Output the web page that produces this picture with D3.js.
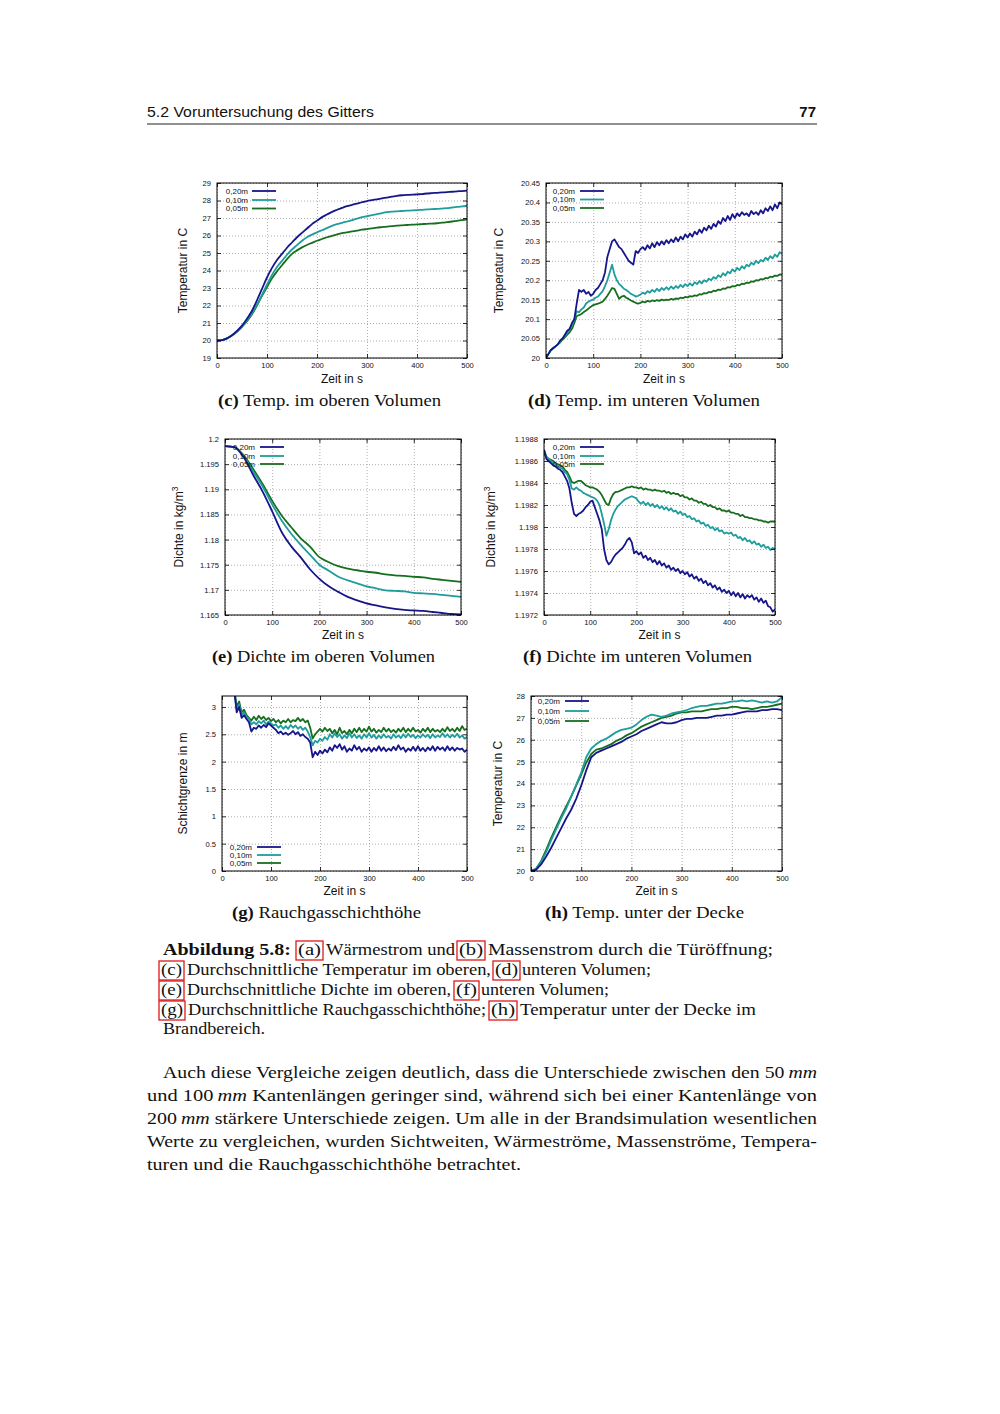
<!DOCTYPE html>
<html><head><meta charset="utf-8">
<script src="https://cdn.jsdelivr.net/npm/d3@7/dist/d3.min.js"></script>
<style>html,body{margin:0;padding:0;background:#fff}svg{display:block}</style>
</head><body>
<script>
// ---------------- DATA ----------------
const seriesNames = ["0,20m", "0,10m", "0,05m"];
const xTicks = [0, 100, 200, 300, 400, 500];

const t10 = [0,10,20,30,40,50,60,70,80,90,100,110,120,130,140,150,160,170,180,190,200,210,220,230,240,250,260,270,280,290,300,310,320,330,340,350,360,370,380,390,400,410,420,430,440,450,460,470,480,490,500];
const t20 = [0,20,40,60,80,100,120,140,160,180,200,220,240,260,280,300,320,340,360,380,400,420,440,460,480,500];
const t5 = [0,5,10,15,20,25,30,35,40,45,50,55,60,65,70,75,80,85,90,95,100,105,110,115,120,125,130,135,140,145,150,155,160,165,170,175,180,185,190,195,200,205,210,215,220,225,230,235,240,245,250,255,260,265,270,275,280,285,290,295,300,305,310,315,320,325,330,335,340,345,350,355,360,365,370,375,380,385,390,395,400,405,410,415,420,425,430,435,440,445,450,455,460,465,470,475,480,485,490,495,500];

// (c) Temperatur oberes Volumen  (t10)
const cTicks = [19,20,21,22,23,24,25,26,27,28,29];
const c020 = [20,20.02,20.12,20.3,20.55,20.85,21.25,21.7,22.3,22.95,23.6,24.15,24.6,24.95,25.3,25.6,25.9,26.15,26.4,26.65,26.85,27.05,27.2,27.35,27.47,27.58,27.68,27.75,27.82,27.9,27.97,28.02,28.07,28.12,28.17,28.22,28.27,28.3,28.32,28.33,28.35,28.37,28.4,28.42,28.44,28.46,28.48,28.5,28.52,28.54,28.56];
const c010 = [20,20.02,20.12,20.3,20.52,20.8,21.15,21.55,22.05,22.6,23.2,23.75,24.2,24.55,24.9,25.2,25.45,25.7,25.9,26.05,26.18,26.3,26.42,26.55,26.65,26.72,26.8,26.88,26.97,27.05,27.1,27.17,27.22,27.28,27.33,27.36,27.38,27.4,27.42,27.43,27.45,27.47,27.49,27.51,27.52,27.54,27.56,27.6,27.63,27.66,27.7];
const c005 = [20,20.02,20.12,20.28,20.5,20.78,21.1,21.5,22.0,22.55,23.05,23.55,23.95,24.3,24.65,24.95,25.15,25.32,25.46,25.58,25.7,25.8,25.9,25.98,26.06,26.13,26.18,26.23,26.28,26.33,26.37,26.41,26.45,26.48,26.51,26.53,26.56,26.58,26.6,26.62,26.63,26.65,26.67,26.68,26.7,26.73,26.76,26.8,26.84,26.88,26.92];

// (d) Temperatur unteres Volumen  (t5)
const dTicks = [20,20.05,20.1,20.15,20.2,20.25,20.3,20.35,20.4,20.45];
const d020 = [20,20.01,20.02,20.025,20.03,20.035,20.045,20.05,20.06,20.07,20.075,20.09,20.1,20.14,20.175,20.17,20.175,20.165,20.17,20.16,20.165,20.175,20.18,20.19,20.2,20.22,20.26,20.28,20.3,20.305,20.295,20.285,20.28,20.27,20.26,20.25,20.245,20.24,20.275,20.27,20.28,20.285,20.278,20.29,20.282,20.295,20.285,20.298,20.29,20.3,20.292,20.303,20.295,20.305,20.298,20.31,20.3,20.312,20.305,20.318,20.31,20.32,20.312,20.325,20.318,20.33,20.322,20.335,20.328,20.34,20.332,20.345,20.338,20.352,20.345,20.36,20.352,20.365,20.355,20.37,20.36,20.372,20.365,20.375,20.368,20.372,20.365,20.378,20.37,20.375,20.368,20.38,20.372,20.385,20.378,20.39,20.38,20.395,20.385,20.4,20.395];
const d010 = [20,20.01,20.02,20.025,20.03,20.035,20.042,20.05,20.057,20.065,20.072,20.085,20.1,20.12,20.118,20.125,20.13,20.14,20.145,20.148,20.15,20.155,20.158,20.165,20.172,20.185,20.2,20.22,20.24,20.215,20.2,20.19,20.185,20.178,20.175,20.17,20.165,20.162,20.158,20.16,20.163,20.168,20.165,20.172,20.168,20.175,20.17,20.178,20.172,20.18,20.175,20.182,20.176,20.184,20.178,20.185,20.18,20.188,20.182,20.19,20.185,20.192,20.186,20.195,20.19,20.198,20.192,20.2,20.196,20.204,20.2,20.208,20.204,20.213,20.208,20.218,20.212,20.222,20.218,20.228,20.222,20.232,20.226,20.236,20.23,20.24,20.236,20.245,20.24,20.25,20.244,20.252,20.248,20.258,20.252,20.262,20.256,20.266,20.26,20.272,20.268];
const d005 = [20,20.01,20.02,20.025,20.03,20.035,20.04,20.047,20.053,20.06,20.066,20.075,20.09,20.108,20.11,20.113,20.118,20.122,20.127,20.132,20.136,20.138,20.14,20.142,20.145,20.152,20.16,20.17,20.18,20.178,20.165,20.152,20.158,20.16,20.155,20.152,20.148,20.145,20.142,20.14,20.142,20.145,20.143,20.147,20.145,20.148,20.146,20.149,20.147,20.15,20.148,20.15,20.149,20.152,20.15,20.153,20.152,20.155,20.154,20.157,20.156,20.159,20.158,20.161,20.16,20.164,20.163,20.167,20.166,20.17,20.169,20.173,20.172,20.176,20.175,20.179,20.178,20.182,20.181,20.185,20.184,20.188,20.187,20.191,20.19,20.194,20.193,20.197,20.196,20.2,20.199,20.203,20.202,20.206,20.205,20.209,20.208,20.212,20.211,20.215,20.214];

// (e) Dichte oberes Volumen  (t20)
const eTicks = [1.165,1.17,1.175,1.18,1.185,1.19,1.195,1.2];
const e020 = [1.1986,1.1984,1.1963,1.1928,1.1895,1.1856,1.1815,1.1787,1.1765,1.1741,1.1722,1.1707,1.1696,1.1686,1.1679,1.1673,1.1669,1.1665,1.1662,1.1660,1.1659,1.1658,1.1656,1.1654,1.1652,1.1651];
const e010 = [1.1986,1.1984,1.1965,1.1935,1.1905,1.1870,1.1838,1.1812,1.1790,1.1770,1.1750,1.1738,1.1726,1.1719,1.1713,1.1707,1.1703,1.1699,1.1698,1.1697,1.1694,1.1693,1.1692,1.1690,1.1688,1.1686];
const e005 = [1.1986,1.1984,1.1967,1.1940,1.1910,1.1877,1.1848,1.1825,1.1803,1.1786,1.1765,1.1755,1.1747,1.1742,1.1739,1.1736,1.1734,1.1731,1.1729,1.1728,1.1726,1.1725,1.1722,1.1720,1.1718,1.1716];

// (f) Dichte unteres Volumen  (t5)
const fTicks = [1.1972,1.1974,1.1976,1.1978,1.198,1.1982,1.1984,1.1986,1.1988];
const f020 = [1.19870,1.19862,1.19860,1.19858,1.19856,1.19855,1.19853,1.19852,1.19850,1.19846,1.19842,1.19835,1.19822,1.19812,1.19810,1.19812,1.19813,1.19815,1.19818,1.19820,1.19823,1.19824,1.19818,1.19812,1.19806,1.19798,1.19780,1.19770,1.19766,1.19768,1.19772,1.19775,1.19777,1.19779,1.19781,1.19784,1.19788,1.19790,1.19786,1.19776,1.19778,1.19775,1.19777,1.19772,1.19774,1.19770,1.19772,1.19768,1.19770,1.19766,1.19769,1.19765,1.19767,1.19763,1.19765,1.19761,1.19763,1.19760,1.19762,1.19758,1.19760,1.19757,1.19759,1.19755,1.19757,1.19753,1.19755,1.19751,1.19753,1.19749,1.19751,1.19747,1.19749,1.19745,1.19747,1.19743,1.19745,1.19741,1.19743,1.19740,1.19742,1.19738,1.19741,1.19737,1.19740,1.19736,1.19739,1.19735,1.19738,1.19736,1.19738,1.19734,1.19736,1.19732,1.19735,1.19731,1.19733,1.19728,1.19727,1.19723,1.19725];
const f010 = [1.19870,1.19864,1.19862,1.19860,1.19858,1.19857,1.19855,1.19854,1.19853,1.19850,1.19848,1.19843,1.19835,1.19834,1.19836,1.19834,1.19833,1.19831,1.19830,1.19829,1.19828,1.19827,1.19826,1.19824,1.19820,1.19812,1.19803,1.19792,1.19798,1.19806,1.19812,1.19816,1.19819,1.19821,1.19823,1.19825,1.19826,1.19827,1.19828,1.19827,1.19826,1.19823,1.19821,1.19823,1.19820,1.19822,1.19819,1.19821,1.19818,1.19820,1.19817,1.19819,1.19816,1.19818,1.19815,1.19817,1.19814,1.19815,1.19812,1.19814,1.19811,1.19812,1.19809,1.19810,1.19807,1.19808,1.19805,1.19806,1.19803,1.19804,1.19801,1.19802,1.19799,1.19800,1.19797,1.19799,1.19796,1.19797,1.19794,1.19795,1.19794,1.19795,1.19792,1.19793,1.19790,1.19791,1.19788,1.19790,1.19787,1.19788,1.19785,1.19787,1.19784,1.19785,1.19782,1.19784,1.19781,1.19782,1.19779,1.19781,1.19780];
const f005 = [1.19870,1.19864,1.19862,1.19861,1.19860,1.19858,1.19857,1.19856,1.19855,1.19852,1.19850,1.19846,1.19841,1.19840,1.19841,1.19842,1.19842,1.19840,1.19838,1.19837,1.19836,1.19836,1.19835,1.19834,1.19832,1.19829,1.19825,1.19821,1.19820,1.19826,1.19830,1.19832,1.19832,1.19833,1.19834,1.19835,1.19836,1.19836,1.19837,1.19836,1.19836,1.19835,1.19836,1.19834,1.19835,1.19834,1.19834,1.19833,1.19834,1.19833,1.19833,1.19832,1.19833,1.19831,1.19832,1.19830,1.19831,1.19830,1.19830,1.19828,1.19829,1.19827,1.19827,1.19825,1.19826,1.19824,1.19824,1.19822,1.19823,1.19821,1.19821,1.19819,1.19820,1.19818,1.19818,1.19816,1.19817,1.19815,1.19815,1.19814,1.19815,1.19813,1.19813,1.19812,1.19812,1.19810,1.19811,1.19809,1.19809,1.19808,1.19808,1.19807,1.19807,1.19806,1.19806,1.19805,1.19805,1.19804,1.19805,1.19805,1.19805];

// (g) Schichtgrenze  (t5)
const gTicks = [0,0.5,1,1.5,2,2.5,3];
const g020 = [3.4,3.4,3.4,3.4,3.4,3.3,2.9,3.0,2.8,2.85,2.78,2.72,2.55,2.62,2.6,2.66,2.62,2.67,2.63,2.7,2.66,2.62,2.58,2.52,2.55,2.5,2.53,2.49,2.52,2.56,2.5,2.54,2.47,2.5,2.45,2.42,2.35,2.08,2.18,2.12,2.2,2.15,2.22,2.17,2.26,2.2,2.3,2.25,2.32,2.22,2.28,2.18,2.24,2.2,2.3,2.22,2.27,2.18,2.24,2.2,2.26,2.18,2.25,2.2,2.28,2.2,2.26,2.19,2.24,2.2,2.27,2.21,2.3,2.22,2.26,2.18,2.24,2.2,2.27,2.2,2.28,2.2,2.25,2.19,2.26,2.21,2.28,2.2,2.27,2.22,2.26,2.2,2.28,2.21,2.26,2.2,2.25,2.22,2.24,2.18,2.22];
const g010 = [3.4,3.4,3.4,3.4,3.4,3.3,2.95,3.05,2.85,2.9,2.82,2.78,2.68,2.72,2.68,2.74,2.7,2.75,2.68,2.73,2.7,2.66,2.68,2.62,2.66,2.6,2.65,2.6,2.67,2.62,2.66,2.6,2.64,2.58,2.62,2.55,2.45,2.3,2.38,2.35,2.42,2.38,2.45,2.4,2.5,2.44,2.52,2.45,2.5,2.42,2.48,2.43,2.52,2.44,2.5,2.43,2.48,2.42,2.5,2.44,2.52,2.44,2.49,2.42,2.48,2.43,2.5,2.44,2.47,2.42,2.5,2.44,2.48,2.43,2.5,2.44,2.51,2.45,2.49,2.43,2.48,2.44,2.5,2.45,2.49,2.43,2.5,2.44,2.48,2.45,2.52,2.45,2.5,2.44,2.49,2.45,2.51,2.44,2.48,2.42,2.45];
const g005 = [3.4,3.4,3.4,3.4,3.4,3.35,3.0,3.1,2.9,2.95,2.85,2.8,2.75,2.82,2.76,2.84,2.78,2.82,2.76,2.8,2.74,2.78,2.72,2.76,2.7,2.75,2.72,2.78,2.72,2.76,2.74,2.8,2.74,2.78,2.72,2.75,2.62,2.42,2.5,2.55,2.6,2.55,2.62,2.56,2.6,2.52,2.58,2.5,2.62,2.52,2.56,2.5,2.58,2.52,2.6,2.54,2.62,2.54,2.6,2.55,2.64,2.55,2.6,2.53,2.58,2.54,2.62,2.55,2.6,2.54,2.58,2.53,2.6,2.55,2.62,2.54,2.6,2.55,2.62,2.55,2.58,2.53,2.6,2.55,2.62,2.54,2.6,2.55,2.58,2.54,2.6,2.55,2.63,2.56,2.6,2.55,2.62,2.56,2.65,2.58,2.6];

// (h) Temperatur unter der Decke  (t10)
const hTicks = [20,21,22,23,24,25,26,27,28];
const h020 = [20,20.05,20.3,20.65,21.05,21.5,21.95,22.4,22.8,23.3,23.9,24.6,25.2,25.4,25.5,25.6,25.7,25.8,25.9,26.05,26.15,26.25,26.4,26.5,26.6,26.7,26.8,26.75,26.75,26.8,26.9,26.95,26.95,27.0,27.0,27.0,27.05,27.1,27.1,27.15,27.15,27.2,27.25,27.3,27.3,27.3,27.35,27.35,27.4,27.4,27.35];
const h010 = [20,20.1,20.4,20.85,21.4,21.9,22.4,22.85,23.4,23.95,24.5,25.2,25.6,25.8,25.95,26.05,26.2,26.35,26.45,26.5,26.55,26.7,26.9,27.05,27.15,27.1,27.05,27.1,27.2,27.25,27.3,27.35,27.45,27.5,27.55,27.55,27.6,27.65,27.65,27.7,27.75,27.75,27.8,27.75,27.8,27.75,27.7,27.75,27.7,27.75,27.95];
const h005 = [20,20.1,20.45,20.95,21.5,22.0,22.5,22.95,23.4,23.9,24.4,24.95,25.35,25.55,25.6,25.7,25.8,25.95,26.05,26.2,26.3,26.45,26.6,26.7,26.8,26.9,27.0,27.05,27.1,27.2,27.25,27.25,27.3,27.3,27.3,27.35,27.4,27.4,27.45,27.45,27.5,27.5,27.45,27.45,27.4,27.45,27.5,27.5,27.55,27.6,27.65];

// ---------------- STYLE / LAYOUT ----------------
const colors = ["#16168a", "#1f9c9c", "#176e1f"];
const W = 1000, H = 1414;
const svg = d3.select("body").append("svg").attr("width", W).attr("height", H);
svg.append("rect").attr("width", W).attr("height", H).attr("fill", "#fff");
const SANS = "'Liberation Sans', Arial, sans-serif";
const SERIF = "'Liberation Serif', 'Times New Roman', serif";

const panels = [
  {t:t10, s:[c020,c010,c005], x0:217, x1:467, y0:183, y1:358, ydom:[19,29], yt:cTicks, fmt:d3.format("d"),
   ylab:"Temperatur in  C", ylx:187, curve:d3.curveMonotoneX, leg:{lx:252, tx:248, ys:[191,200,208.5]},
   cap:["(c)"," Temp. im oberen Volumen"], capX:218, capW:223, capY:406, xlabY:383},
  {t:t5, s:[d020,d010,d005], x0:546, x1:782, y0:183, y1:358, ydom:[20,20.45], yt:dTicks, fmt:v=>String(+v.toFixed(2)),
   ylab:"Temperatur in  C", ylx:503, curve:d3.curveLinear, leg:{lx:580, tx:575, ys:[191,199.5,208]},
   cap:["(d)"," Temp. im unteren Volumen"], capX:528, capW:232, capY:406, xlabY:383},
  {t:t20, s:[e020,e010,e005], x0:225, x1:461, y0:439, y1:615, ydom:[1.165,1.2], yt:eTicks, fmt:v=>String(+v.toFixed(3)),
   ylab:"Dichte in kg/m", sup:"3", ylx:183, curve:d3.curveMonotoneX, leg:{lx:260, tx:255, ys:[447,456,464]},
   cap:["(e)"," Dichte im oberen Volumen"], capX:212, capW:223, capY:662, xlabY:639},
  {t:t5, s:[f020,f010,f005], x0:544, x1:775, y0:439, y1:615, ydom:[1.1972,1.1988], yt:fTicks, fmt:v=>String(+v.toFixed(4)),
   ylab:"Dichte in kg/m", sup:"3", ylx:495, curve:d3.curveLinear, leg:{lx:580, tx:575, ys:[447,456,464]},
   cap:["(f)"," Dichte im unteren Volumen"], capX:523, capW:229, capY:662, xlabY:639},
  {t:t5, s:[g020,g010,g005], x0:222, x1:467, y0:696, y1:871, ydom:[0,3.2], yt:gTicks, fmt:v=>String(v),
   ylab:"Schichtgrenze in m", ylx:187, curve:d3.curveLinear, leg:{lx:257, tx:252, ys:[847,855,863]},
   cap:["(g)"," Rauchgasschichthöhe"], capX:232, capW:189, capY:918, xlabY:895},
  {t:t10, s:[h020,h010,h005], x0:531, x1:782, y0:696, y1:871, ydom:[20,28], yt:hTicks, fmt:d3.format("d"),
   ylab:"Temperatur in  C", ylx:502, curve:d3.curveLinear, leg:{lx:565, tx:560, ys:[701,711,721]},
   cap:["(h)"," Temp. unter der Decke"], capX:545, capW:199, capY:918, xlabY:895}
];

panels.forEach((p, pi) => {
  const x = d3.scaleLinear().domain([0, 500]).range([p.x0, p.x1]);
  const y = d3.scaleLinear().domain(p.ydom).range([p.y1, p.y0]);
  const g = svg.append("g");
  const pw = p.x1 - p.x0, ph = p.y1 - p.y0;

  // grid
  g.append("g").attr("transform", `translate(0,${p.y1})`)
    .call(d3.axisBottom(x).tickValues(xTicks).tickSize(-ph).tickFormat(""))
    .call(s => { s.select(".domain").remove(); s.selectAll("line").attr("stroke", "#9a9a9a").attr("stroke-width", 0.8).attr("stroke-dasharray", "1,2"); });
  g.append("g").attr("transform", `translate(${p.x0},0)`)
    .call(d3.axisLeft(y).tickValues(p.yt).tickSize(-pw).tickFormat(""))
    .call(s => { s.select(".domain").remove(); s.selectAll("line").attr("stroke", "#9a9a9a").attr("stroke-width", 0.8).attr("stroke-dasharray", "1,2"); });

  // clip
  const cid = "clip" + pi;
  svg.append("clipPath").attr("id", cid).append("rect").attr("x", p.x0).attr("y", p.y0).attr("width", pw).attr("height", ph);

  const line = d3.line().x((d, i) => x(p.t[i])).y(d => y(d)).curve(p.curve);
  const lg = g.append("g").attr("clip-path", `url(#${cid})`);
  [2, 1, 0].forEach(k => {
    lg.append("path").attr("d", line(p.s[k])).attr("fill", "none")
      .attr("stroke", colors[k]).attr("stroke-width", 1.8).attr("stroke-linejoin", "round");
  });

  // axes with inward ticks
  const styleAxis = s => {
    s.select(".domain").remove();
    s.selectAll("line").attr("stroke", "#000").attr("stroke-width", 0.8);
    s.selectAll("text").attr("font-family", SANS).attr("font-size", 7.6).attr("fill", "#111");
  };
  g.append("g").attr("transform", `translate(0,${p.y1})`)
    .call(d3.axisBottom(x).tickValues(xTicks).tickSizeInner(-4).tickSizeOuter(0).tickPadding(5).tickFormat(d3.format("d")))
    .call(styleAxis);
  g.append("g").attr("transform", `translate(0,${p.y0})`)
    .call(d3.axisTop(x).tickValues(xTicks).tickSizeInner(-4).tickSizeOuter(0).tickFormat(""))
    .call(styleAxis);
  g.append("g").attr("transform", `translate(${p.x0},0)`)
    .call(d3.axisLeft(y).tickValues(p.yt).tickSizeInner(-4).tickSizeOuter(0).tickPadding(6).tickFormat(p.fmt))
    .call(styleAxis);
  g.append("g").attr("transform", `translate(${p.x1},0)`)
    .call(d3.axisRight(y).tickValues(p.yt).tickSizeInner(-4).tickSizeOuter(0).tickFormat(""))
    .call(styleAxis);

  // frame
  g.append("rect").attr("x", p.x0).attr("y", p.y0).attr("width", pw).attr("height", ph)
    .attr("fill", "none").attr("stroke", "#000").attr("stroke-width", 1);

  // legend
  seriesNames.forEach((nm, k) => {
    g.append("text").attr("x", p.leg.tx).attr("y", p.leg.ys[k] + 2.9).attr("text-anchor", "end")
      .attr("font-family", SANS).attr("font-size", 8).attr("fill", "#111").text(nm);
    g.append("line").attr("x1", p.leg.lx).attr("x2", p.leg.lx + 24).attr("y1", p.leg.ys[k]).attr("y2", p.leg.ys[k])
      .attr("stroke", colors[k]).attr("stroke-width", 1.8);
  });

  // axis labels
  g.append("text").attr("x", (p.x0 + p.x1) / 2).attr("y", p.xlabY).attr("text-anchor", "middle")
    .attr("font-family", SANS).attr("font-size", 12).attr("fill", "#111").text("Zeit in s");
  const yl = g.append("text").attr("transform", `translate(${p.ylx},${(p.y0 + p.y1) / 2}) rotate(-90)`)
    .attr("text-anchor", "middle").attr("font-family", SANS).attr("font-size", 12).attr("fill", "#111").text(p.ylab);
  if (p.sup) yl.append("tspan").attr("dy", -5).attr("font-size", 8.5).text(p.sup);

  // caption
  const ct = g.append("text").attr("x", p.capX).attr("y", p.capY).attr("font-family", SERIF).attr("font-size", 16)
    .attr("fill", "#111").attr("textLength", p.capW).attr("lengthAdjust", "spacingAndGlyphs");
  ct.append("tspan").attr("font-weight", "bold").text(p.cap[0]);
  ct.append("tspan").text(p.cap[1]);
});

// ---------------- PAGE TEXT ----------------
svg.append("text").attr("x", 147).attr("y", 117).attr("font-family", SANS).attr("font-size", 15)
  .attr("fill", "#111").attr("textLength", 227).attr("lengthAdjust", "spacingAndGlyphs").text("5.2 Voruntersuchung des Gitters");
svg.append("text").attr("x", 816).attr("y", 117).attr("text-anchor", "end").attr("font-family", SANS).attr("font-size", 15)
  .attr("font-weight", "bold").attr("fill", "#111").text("77");
svg.append("line").attr("x1", 147).attr("x2", 817).attr("y1", 124).attr("y2", 124).attr("stroke", "#222").attr("stroke-width", 1);

// Figure caption: segments [text, x0, x1, bold, boxed]
const capLines = [
  {y: 955, segs: [["Abbildung 5.8:",163,291,true,false],["(a)",298,321,false,true],["Wärmestrom und",326,455,false,false],["(b)",459,483,false,true],["Massenstrom durch die Türöffnung;",488,773,false,false]]},
  {y: 975, segs: [["(c)",161,182,false,true],["Durchschnittliche Temperatur im oberen,",187,491,false,false],["(d)",495,518,false,true],["unteren Volumen;",522,651,false,false]]},
  {y: 995, segs: [["(e)",161,182,false,true],["Durchschnittliche Dichte im oberen,",187,451,false,false],["(f)",456,477,false,true],["unteren Volumen;",481,609,false,false]]},
  {y: 1015, segs: [["(g)",161,183,false,true],["Durchschnittliche Rauchgasschichthöhe;",188,486,false,false],["(h)",491,515,false,true],["Temperatur unter der Decke im",520,756,false,false]]},
  {y: 1034, segs: [["Brandbereich.",163,265,false,false]]}
];
capLines.forEach(L => {
  L.segs.forEach(([txt, a, b, bold, boxed]) => {
    svg.append("text").attr("x", a).attr("y", L.y).attr("font-family", SERIF).attr("font-size", 16)
      .attr("font-weight", bold ? "bold" : "normal").attr("fill", "#111")
      .attr("textLength", b - a).attr("lengthAdjust", "spacingAndGlyphs").text(txt);
    if (boxed) svg.append("rect").attr("x", a - 2).attr("y", L.y - 14).attr("width", b - a + 4).attr("height", 19)
      .attr("fill", "none").attr("stroke", "#e01818").attr("stroke-width", 1.3);
  });
});

// Body paragraph
const para = [
  {y: 1078, x0: 163, x1: 817, parts: [["Auch diese Vergleiche zeigen deutlich, dass die Unterschiede zwischen den 50\u2009",0],["mm",1]]},
  {y: 1101, x0: 147, x1: 817, parts: [["und 100\u2009",0],["mm",1],[" Kantenlängen geringer sind, während sich bei einer Kantenlänge von",0]]},
  {y: 1124, x0: 147, x1: 817, parts: [["200\u2009",0],["mm",1],[" stärkere Unterschiede zeigen. Um alle in der Brandsimulation wesentlichen",0]]},
  {y: 1147, x0: 147, x1: 817, parts: [["Werte zu vergleichen, wurden Sichtweiten, Wärmeströme, Massenströme, Tempera-",0]]},
  {y: 1170, x0: 147, x1: 521, parts: [["turen und die Rauchgasschichthöhe betrachtet.",0]]}
];
para.forEach(P => {
  const t = svg.append("text").attr("x", P.x0).attr("y", P.y).attr("font-family", SERIF).attr("font-size", 17.5)
    .attr("fill", "#111").attr("textLength", P.x1 - P.x0).attr("lengthAdjust", "spacingAndGlyphs");
  P.parts.forEach(([s, it]) => { const ts = t.append("tspan").text(s); if (it) ts.attr("font-style", "italic"); });
});
</script>
</body></html>
